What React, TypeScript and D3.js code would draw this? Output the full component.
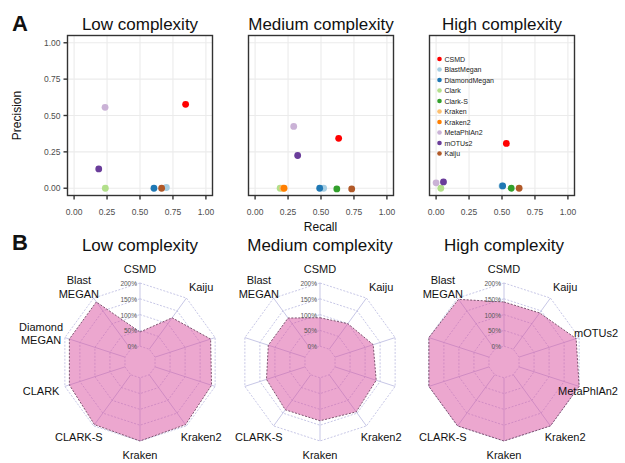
import React from "react";
import * as d3 from "d3";

// tools, in legend order
const tools = ["CSMD", "BlastMegan", "DiamondMegan", "Clark", "Clark-S", "Kraken", "Kraken2", "MetaPhlAn2", "mOTUs2", "Kaiju"];
const toolColors = ["#ff0000", "#a6cee3", "#1f78b4", "#b2df8a", "#33a02c", "#fdbf6f", "#ff7f00", "#cab2d6", "#6a3d9a", "#b15928"];

const complexities = ["Low complexity", "Medium complexity", "High complexity"];

// panel A: recall / precision per tool (null = not shown)
const recallLow = [0.846, 0.7, 0.606, 0.237, null, null, null, 0.235, 0.187, 0.664];
const precisionLow = [0.577, 0.005, 0, 0, null, null, null, 0.556, 0.133, 0];
const recallMedium = [0.634, 0.52, 0.49, 0.19, 0.62, 0.21, 0.22, 0.293, 0.323, 0.733];
const precisionMedium = [0.343, 0, 0, 0, -0.005, 0, 0, 0.425, 0.225, -0.005];
const recallHigh = [0.533, 0.5, 0.505, 0.036, 0.57, null, null, 0.0, 0.056, 0.63];
const precisionHigh = [0.308, 0.016, 0.016, 0, 0, null, null, 0.037, 0.043, 0];
const axisTicks = [0, 0.25, 0.5, 0.75, 1];

// panel B: radar, % per axis (clockwise from top)
const radarAxes = ["CSMD", "Kaiju", "mOTUs2", "MetaPhlAn2", "Kraken2", "Kraken", "CLARK-S", "CLARK", "Diamond\nMEGAN", "Blast\nMEGAN"];
const radarLow = [45, 123, 185, 188, 195, 200, 195, 185, 185, 185];
const radarMedium = [90, 100, 127, 137, 145, 136, 137, 128, 122, 122];
const radarHigh = [140, 142, 190, 200, 200, 200, 200, 200, 200, 195];
const radarTicks = [0, 50, 100, 150, 200];
// which axis labels survive in each panel of the figure
const shownLow = [1, 1, 0, 0, 1, 1, 1, 1, 1, 1];
const shownMedium = [1, 1, 0, 0, 1, 1, 1, 0, 0, 1];
const shownHigh = [1, 1, 1, 1, 1, 1, 1, 0, 0, 1];

const FONT = '"Liberation Sans", Arial, Helvetica, sans-serif';

function Scatter(props: any) {
  const { title, recall, precision, left, showY, showLegend } = props;
  const x = d3.scaleLinear().domain([-0.05, 1.05]).range([left, left + 145]);
  const y = d3.scaleLinear().domain([-0.05, 1.05]).range([195.5, 35.5]);
  const fmt = d3.format(".2f");
  const pts = tools.map((t, i) => ({ t, i, r: recall[i], p: precision[i] })).filter((d) => d.r != null);

  return (
    <g>
      <text x={x(0.5)} y={29.5} textAnchor="middle" fontSize={17} fill="#111">{title}</text>
      <rect x={left} y={35.5} width={145} height={160} fill="#fff" />
      {axisTicks.map((v) => (
        <g key={v}>
          <line x1={x(v)} x2={x(v)} y1={35.5} y2={195.5} stroke="#ebebeb" strokeWidth={1.1} />
          <line x1={left} x2={left + 145} y1={y(v)} y2={y(v)} stroke="#ebebeb" strokeWidth={1.1} />
          <line x1={x(v)} x2={x(v)} y1={195.5} y2={199.5} stroke="#333" strokeWidth={1.4} />
          <text x={x(v)} y={215} textAnchor="middle" fontSize={8.5} fill="#4d4d4d">{fmt(v)}</text>
          {showY && (
            <g>
              <line x1={left - 4} x2={left} y1={y(v)} y2={y(v)} stroke="#333" strokeWidth={1.4} />
              <text x={left - 7} y={y(v) + 3} textAnchor="end" fontSize={8.5} fill="#4d4d4d">{fmt(v)}</text>
            </g>
          )}
        </g>
      ))}
      {pts.map((d) => (
        <circle key={d.t} cx={x(d.r)} cy={y(d.p)} r={3.4} fill={toolColors[d.i]} />
      ))}
      <rect x={left} y={35.5} width={145} height={160} fill="none" stroke="#333" strokeWidth={1.4} />
      {showY && (
        <text transform={`translate(21,${y(0.5)}) rotate(-90)`} textAnchor="middle" fontSize={12} fill="#111">Precision</text>
      )}
      {showLegend &&
        tools.map((t, i) => (
          <g key={t} transform={`translate(${left + 10},${59 + i * 10.5})`}>
            <circle r={2.3} fill={toolColors[i]} />
            <text x={5} y={2.5} fontSize={7} fill="#222">{t}</text>
          </g>
        ))}
    </g>
  );
}

function Radar(props: any) {
  const { title, values, cx, shown } = props;
  const cy = 362;
  const R = 79;
  const r = d3.scaleLinear().domain([0, 200]).range([R / 5, R]);
  const n = radarAxes.length;
  const angle = (i: number) => (i * 2 * Math.PI) / n;
  const ring = d3.lineRadial<number>().angle((_, i) => angle(i)).radius((d) => d).curve(d3.curveLinearClosed);
  const poly = d3.lineRadial<number>().angle((_, i) => angle(i)).radius((d) => r(d)).curve(d3.curveLinearClosed);

  return (
    <g>
      <text x={cx} y={251} textAnchor="middle" fontSize={17} fill="#111">{title}</text>
      <g transform={`translate(${cx},${cy})`}>
        {radarTicks.map((t) => (
          <path key={t} d={ring(radarAxes.map(() => r(t))) || ""} fill="none" stroke="#b9b9e0" strokeWidth={0.8} strokeDasharray="2,1.5" />
        ))}
        {radarAxes.map((a, i) => (
          <line key={a} x1={r(0) * Math.sin(angle(i))} y1={-r(0) * Math.cos(angle(i))} x2={R * Math.sin(angle(i))} y2={-R * Math.cos(angle(i))} stroke="#b9b9e0" strokeWidth={0.8} />
        ))}
        <path d={poly(values) || ""} fill="#d94f9f" fillOpacity={0.5} stroke="#7d5470" strokeWidth={1} strokeDasharray="2,1.5" />
        {radarTicks.map((t) => (
          <text key={t} x={-3} y={-r(t) + 3} textAnchor="end" fontSize={6.5} fill="#555">{t + "%"}</text>
        ))}
      </g>
      {radarAxes.map((a, i) => {
        if (!shown[i]) return null;
        const lines = a.split("\n");
        let lx = cx + 104 * Math.sin(angle(i));
        const ly = cy - 93 * Math.cos(angle(i));
        const w = d3.max(lines, (l) => l.length) * 0.56 * 11;
        let anchor = "middle";
        if (lx + w / 2 > 618) {
          lx = 618;
          anchor = "end";
        }
        return (
          <text key={a} x={lx} y={ly - ((lines.length - 1) * 13.5) / 2} textAnchor={anchor} dominantBaseline="central" fontSize={11} fill="#111">
            {lines.map((l, k) => (
              <tspan key={k} x={lx} dy={k === 0 ? 0 : 13.5}>{l}</tspan>
            ))}
          </text>
        );
      })}
    </g>
  );
}

export default function App() {
  return (
    <svg width={625} height={463} style={{ position: "absolute", left: 0, top: 0, background: "#fff" }} fontFamily={FONT}>
      <rect width={625} height={463} fill="#fff" />
      <text x={12} y={31} fontSize={22} fontWeight="bold" fill="#111">A</text>
      <Scatter title={complexities[0]} recall={recallLow} precision={precisionLow} left={67.5} showY={true} showLegend={false} />
      <Scatter title={complexities[1]} recall={recallMedium} precision={precisionMedium} left={248.5} showY={false} showLegend={false} />
      <Scatter title={complexities[2]} recall={recallHigh} precision={precisionHigh} left={429.5} showY={false} showLegend={true} />
      <text x={320.5} y={231} textAnchor="middle" fontSize={12} fill="#111">Recall</text>

      <text x={12} y={250} fontSize={22} fontWeight="bold" fill="#111">B</text>
      <Radar title={complexities[0]} values={radarLow} cx={140} shown={shownLow} />
      <Radar title={complexities[1]} values={radarMedium} cx={320} shown={shownMedium} />
      <Radar title={complexities[2]} values={radarHigh} cx={504} shown={shownHigh} />
    </svg>
  );
}
